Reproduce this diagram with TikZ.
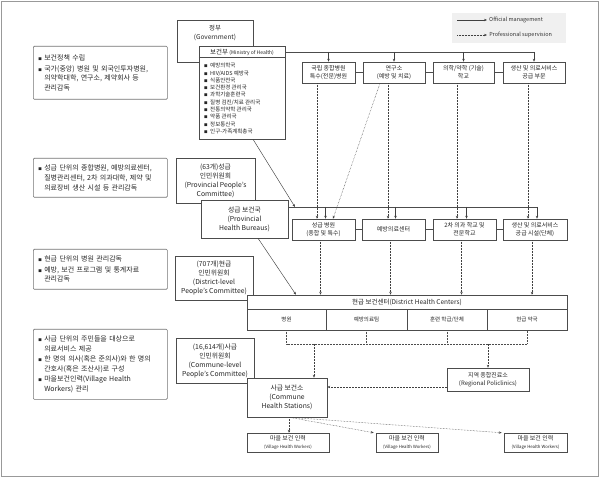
\documentclass[tikz,border=0pt]{standalone}
\usepackage{fontspec}
\setmainfont{Noto Sans CJK KR}
\usetikzlibrary{arrows.meta,positioning}

\newcommand{\bul}{\makebox[6pt][l]{\fontsize{3.5}{3.5}\selectfont ■}}
\newcommand{\bind}{\hspace*{6pt}}

\tikzset{
  box/.style={draw=black!70, fill=white, line width=0.5pt, align=center, inner sep=1pt, text=black!85},
  tbox/.style={box, minimum height=21, font=\fontsize{6}{8}\selectfont},
  cbox/.style={box, font=\fontsize{6.8}{9}\selectfont},
  vbox/.style={box, minimum height=19, font=\fontsize{6}{7.5}\selectfont},
  note/.style={draw=black!55, rounded corners=1pt, line width=0.6pt, fill=white, anchor=north west,
    inner xsep=5pt, inner ysep=0pt, text width=124pt, align=left, text=black!85, font=\fontsize{7}{9.6}\selectfont},
  mgmt/.style={->, draw=black!75, line width=0.45pt},
  prof/.style={->, draw=black!75, line width=0.5pt, densely dotted},
  link/.style={draw=black!70, line width=0.5pt},
}

\begin{document}
\begin{tikzpicture}[x=1pt,y=-1pt,>={Stealth[length=3pt,width=2.4pt]}]
    \useasboundingbox (0,0) rectangle (600,478);
    \draw[black!40, line width=0.8pt] (1,1) rectangle (598,476);
    %legend
    \node[fill=black!6, minimum width=114, minimum height=30, anchor=north west] (legend) at (452,13) {};
    \coordinate (lga) at (457,20);
    \coordinate (lgb) at (487,20);
    \coordinate (lgc) at (457,35);
    \coordinate (lgd) at (487,35);
    \draw[mgmt] (lga) -- (lgb) node[right, inner sep=2pt, font=\fontsize{5.5}{6}\selectfont, text=black!80] (lgmgmt) {Official management};
    \draw[prof] (lgc) -- (lgd) node[right, inner sep=2pt, font=\fontsize{5.5}{6}\selectfont, text=black!80] (lgprof) {Professional supervision};
    %left notes
    \node[note, minimum height=53] (note1) at (33,46) {\bul 보건정책 수립\\[1pt]
        \bul 국가(중앙) 병원 및 외국인투자병원,\\ \bind 의약학대학, 연구소, 제약회사 등\\ \bind 관리감독};
    \node[note, minimum height=39] (note2) at (33,158) {\bul 성급 단위의 종합병원, 예방의료센터,\\
        \bind 질병관리센터, 2차 의과대학, 제약 및\\ \bind 의료장비 생산 시설 등 관리감독};
    \node[note, minimum height=40] (note3) at (33,249) {\bul 현급 단위의 병원 관리감독\\[1pt]
        \bul 예방, 보건 프로그램 및 통계자료\\ \bind 관리감독};
    \node[note, minimum height=70] (note4) at (33,329) {\bul 사급 단위의 주민들을 대상으로\\ \bind 의료서비스 제공\\[1pt]
        \bul 한 명의 의사(혹은 준의사)와 한 명의\\ \bind 간호사(혹은 조산사)로 구성\\[1pt]
        \bul 마을보건인력(Village Health\\ \bind Workers) 관리};
    %central level
    \node[box, minimum width=76, minimum height=42] (gov) at (215,41) {};
    \node[align=center, inner sep=0pt, font=\fontsize{6.5}{8.5}\selectfont, text=black!85] (govtxt) at (215,33) {정부\\(Government)};
    \node[box, minimum width=86, minimum height=93] (moh) at (242,92.5) {};
    \node[inner sep=0pt, font=\fontsize{6.5}{8}\selectfont, text=black!85] (mohhd) at (242,52) {보건부 {\fontsize{5}{5}\selectfont (Ministry of Health)}};
    \draw[link] ([yshift=-12pt]moh.north west) -- ([yshift=-12pt]moh.north east);
    \node[anchor=north west, align=left, inner sep=0pt, font=\fontsize{5.5}{7.3}\selectfont, text=black!85] (mohlist) at (204,63) {%
        \bul 예방의학국\\ \bul HIV/AIDS 예방국\\ \bul 식품안전국\\ \bul 보건환경 관리국\\ \bul 과학기술훈련국\\
        \bul 질병 검진/치료 관리국\\ \bul 전통의약학 관리국\\ \bul 약품 관리국\\ \bul 정보통신국\\ \bul 인구-가족계획총국};
    \node[tbox, minimum width=53] (nathosp) at (328.5,72.5) {국립 종합병원\\특수(전문)병원};
    \node[tbox, minimum width=62] (inst) at (394,72.5) {연구소\\(예방 및 치료)};
    \node[tbox, minimum width=61] (medsch) at (463.5,72.5) {의학/약학 (기술)\\학교};
    \node[tbox, minimum width=62] (prodsec) at (534,72.5) {생산 및 의료서비스\\공급 부문};
    \draw[link] (nathosp) -- (inst) -- (medsch) -- (prodsec);
    \coordinate (busa) at (534,52);
    \draw[link] (moh.east |- busa) -- (busa);
    \foreach \n in {nathosp,inst,medsch,prodsec}
        \draw[mgmt] (\n.north |- busa) -- (\n.north);
    %provincial level
    \node[cbox, minimum width=79, minimum height=45] (provpc) at (215.5,180.5) {(63개)성급\\인민위원회\\(Provincial People’s\\Committee)};
    \node[cbox, minimum width=87, minimum height=38] (provhb) at (244.5,219) {성급 보건국\\(Provincial\\Health Bureaus)};
    \node[tbox, minimum width=63] (provhosp) at (323.5,229.5) {성급 병원\\(종합 및 특수)};
    \node[tbox, minimum width=63] (prevctr) at (393.5,229.5) {예방의료센터};
    \node[tbox, minimum width=63] (secsch) at (464.5,229.5) {2차 의과 학교 및\\전문학교};
    \node[tbox, minimum width=64] (prodfac) at (535,229.5) {생산 및 의료서비스\\공급 시설(단체)};
    \draw[link] (provhosp) -- (prevctr) -- (secsch) -- (prodfac);
    \coordinate (busb) at (537,207);
    \coordinate (busbin) at (295,207);
    \draw[link] (provhb.east |- busb) -- (busb);
    \draw[mgmt] ([xshift=11pt]moh.south) -- (busbin);
    \foreach \n in {provhosp,prevctr,secsch,prodfac}
        \draw[mgmt] ([xshift=2pt]\n.north |- busb) -- ([xshift=2pt]\n.north);
    \draw[prof] ([xshift=-11.5pt]nathosp.south) -- ([xshift=-11.5pt]nathosp.south |- provhosp.north);
    \draw[prof] ([xshift=-14pt]inst.south) -- ([xshift=9.5pt]provhosp.north);
    \draw[prof] ([xshift=-6pt]inst.south) -- ([xshift=-6pt]inst.south |- prevctr.north);
    \draw[prof] ([xshift=-6.5pt]medsch.south) -- ([xshift=-6.5pt]medsch.south |- secsch.north);
    \draw[prof] ([xshift=-6pt]prodsec.south) -- ([xshift=-6pt]prodsec.south |- prodfac.north);
    %district level
    \node[cbox, minimum width=78, minimum height=44] (distpc) at (214,278) {(707개)현급\\인민위원회\\(District-level\\People’s Committee)};
    \node[box, minimum width=320, minimum height=14, font=\fontsize{6.5}{8}\selectfont] (dhc) at (407,302) {현급 보건센터(District Health Centers)};
    \node[box, minimum width=79, minimum height=21, font=\fontsize{5.5}{6}\selectfont] (dhca) at (286.5,319.5) {병원};
    \node[box, minimum width=81, minimum height=21, font=\fontsize{5.5}{6}\selectfont] (dhcb) at (366.5,319.5) {예방의료팀};
    \node[box, minimum width=80, minimum height=21, font=\fontsize{5.5}{6}\selectfont] (dhcc) at (447,319.5) {훈련 학급/단체};
    \node[box, minimum width=80, minimum height=21, font=\fontsize{5.5}{6}\selectfont] (dhcd) at (527,319.5) {현급 약국};
    \draw[mgmt] ([xshift=13.5pt]provhb.south) -- ([xshift=-111pt]dhc.north);
    \foreach \n in {provhosp,prevctr,secsch,prodfac}
        \draw[prof] ([xshift=-3pt]\n.south) -- ([xshift=-3pt]\n.south |- dhc.north);
    %commune level
    \node[cbox, minimum width=78, minimum height=45] (commpc) at (215,360.5) {(16,614개)사급\\인민위원회\\(Commune-level\\People’s Committee)};
    \node[cbox, minimum width=80, minimum height=39] (chs) at (287,397.5) {사급 보건소\\(Commune\\Health Stations)};
    \node[box, minimum width=82, minimum height=23, font=\fontsize{6}{8}\selectfont] (rpc) at (488,379.5) {지역 종합진료소\\(Regional Policlinics)};
    \coordinate (brk) at (0,344);
    \coordinate (chsin) at ([xshift=27pt]chs.north);
    \draw[link, densely dotted] (dhca.south) -- (dhca.south |- brk) -- (dhcd.south |- brk) -- (dhcd.south);
    \draw[link, densely dotted] (dhcb.south) -- (dhcb.south |- brk);
    \draw[link, densely dotted] (dhcc.south) -- (dhcc.south |- brk);
    \draw[prof] (chsin |- brk) -- (chsin);
    \draw[prof] (rpc.north |- brk) -- (rpc.north);
    \draw[prof] ([yshift=-7.5pt]rpc.west) -- ([yshift=-7.5pt]rpc.west -| chs.east);
    %village
    \node[vbox, minimum width=82] (vhwa) at (288,442.5) {마을 보건 인력\\{\fontsize{4.3}{5}\selectfont (Village Health Workers)}};
    \node[vbox, minimum width=62] (vhwb) at (407,442.5) {마을 보건 인력\\{\fontsize{4.3}{5}\selectfont (Village Health Workers)}};
    \node[vbox, minimum width=63] (vhwc) at (535.5,442.5) {마을 보건 인력\\{\fontsize{4.3}{5}\selectfont (Village Health Workers)}};
    \coordinate (chsout) at ([xshift=2pt]chs.south);
    \draw[prof] (chsout) -- (chsout |- vhwa.north);
    \draw[prof] (chsout) -- ([xshift=-2pt]vhwb.north west);
    \draw[prof] (chsout) -- ([xshift=-2pt]vhwc.north west);
\end{tikzpicture}
\end{document}
